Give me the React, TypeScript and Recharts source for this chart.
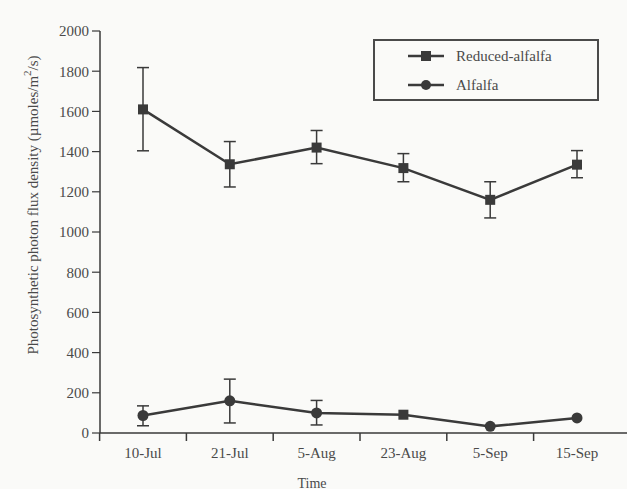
import { LineChart, Line, XAxis, YAxis, ErrorBar, Legend } from "recharts"

const dates = ["10-Jul", "21-Jul", "5-Aug", "23-Aug", "5-Sep", "15-Sep"]

// Reduced-alfalfa means and error bar ends
const reduced = [1610, 1337, 1420, 1318, 1160, 1335]
const reducedLow = [1404, 1224, 1340, 1250, 1070, 1270]
const reducedHigh = [1818, 1450, 1505, 1390, 1250, 1405]

// Alfalfa means and error bar ends (null = hidden under the marker)
const alfalfa = [87, 160, 100, 91, 33, 75]
const alfalfaLow = [36, 50, 40, null, null, null]
const alfalfaHigh = [135, 268, 162, null, null, null]

const yTicks = [0, 200, 400, 600, 800, 1000, 1200, 1400, 1600, 1800, 2000]

const data = dates.map((date, i) => ({
  date,
  reduced: reduced[i],
  reducedErr: [reduced[i] - reducedLow[i], reducedHigh[i] - reduced[i]],
  alfalfa: alfalfa[i],
  alfalfaErr:
    alfalfaLow[i] == null
      ? undefined
      : [alfalfa[i] - (alfalfaLow[i] as number), (alfalfaHigh[i] as number) - alfalfa[i]],
}))

const font = "'Liberation Serif', 'DejaVu Serif', serif"
const ink = "#3a3a3a"
const textColor = "#4a4a4a"
const half = 43.4 // half the spacing between categories

function SquareDot(props: any) {
  const { cx, cy, index } = props
  return <rect key={`sq-${index}`} x={cx - 5} y={cy - 5} width={10} height={10} fill={ink} />
}

function RoundDot(props: any) {
  const { cx, cy, index } = props
  // the 23-Aug point is printed as a square in the original
  if (index === 3) return <rect key={`rd-${index}`} x={cx - 5} y={cy - 5} width={10} height={10} fill={ink} />
  return <circle key={`rd-${index}`} cx={cx} cy={cy} r={5.5} fill={ink} />
}

function XTick(props: any) {
  const { x, y, payload, index } = props
  const axisY = y - 8
  return (
    <g>
      {index === 0 && <line x1={x - half} x2={x - half} y1={axisY} y2={axisY + 8} stroke={ink} strokeWidth={1.5} />}
      {index < dates.length - 1 && (
        <line x1={x + half} x2={x + half} y1={axisY} y2={axisY + 8} stroke={ink} strokeWidth={1.5} />
      )}
      <text x={x} y={axisY + 14} dy="0.71em" textAnchor="middle" fill={textColor} fontFamily={font} fontSize={15}>
        {payload.value}
      </text>
    </g>
  )
}

function YLabel() {
  return (
    <text
      x={33}
      y={205}
      transform="rotate(-90 33 205)"
      textAnchor="middle"
      dominantBaseline="central"
      fill={textColor}
      fontFamily={font}
      fontSize={15}
    >
      Photosynthetic photon flux density (µmoles/m
      <tspan dy={-6} fontSize={11}>2</tspan>
      <tspan dy={6}>/s)</tspan>
    </text>
  )
}

function TimeLabel() {
  return (
    <text x={312} y={483} textAnchor="middle" dominantBaseline="central" fill={textColor} fontFamily={font} fontSize={14}>
      Time
    </text>
  )
}

function LegendBox() {
  const row = (top: number, label: string, round: boolean) => (
    <div style={{ position: "absolute", left: 33, top: top - 8, height: 16, display: "flex", alignItems: "center" }}>
      <svg width={36} height={16}>
        <line x1={0} x2={36} y1={8} y2={8} stroke={ink} strokeWidth={2.5} />
        {round ? <circle cx={18} cy={8} r={5} fill={ink} /> : <rect x={13} y={3} width={10} height={10} fill={ink} />}
      </svg>
      <span style={{ marginLeft: 12, fontFamily: font, fontSize: 15, color: textColor }}>{label}</span>
    </div>
  )
  return (
    <div
      style={{
        position: "relative",
        width: 226,
        height: 62,
        border: "2px solid #4a4a4a",
        boxSizing: "border-box",
      }}
    >
      {row(15, "Reduced-alfalfa", false)}
      {row(44, "Alfalfa", true)}
    </div>
  )
}

export default function App() {
  return (
    <div style={{ position: "absolute", left: 0, top: 0, width: 627, height: 489, background: "#fafaf8" }}>
      <LineChart width={627} height={489} data={data} margin={{ top: 31, right: 0, bottom: 26, left: 0 }}>
        <XAxis
          dataKey="date"
          height={30}
          interval={0}
          padding={{ left: 43, right: 50 }}
          tickLine={false}
          tickSize={6}
          tickMargin={2}
          axisLine={{ stroke: ink, strokeWidth: 1.5 }}
          tick={<XTick />}
          label={<TimeLabel />}
        />
        <YAxis
          width={100}
          domain={[0, 2000]}
          ticks={yTicks}
          interval={0}
          tickSize={8}
          tickMargin={3}
          axisLine={{ stroke: ink, strokeWidth: 1.5 }}
          tickLine={{ stroke: ink, strokeWidth: 1.2 }}
          tick={{ fill: textColor, fontFamily: font, fontSize: 15 }}
          label={<YLabel />}
        />
        <Legend
          layout="vertical"
          verticalAlign="middle"
          align="center"
          content={<LegendBox />}
          wrapperStyle={{ left: 373, top: 39, width: 226 }}
        />
        <Line
          name="Reduced-alfalfa"
          dataKey="reduced"
          stroke={ink}
          strokeWidth={2.5}
          dot={SquareDot}
          activeDot={false}
          isAnimationActive={false}
        >
          <ErrorBar dataKey="reducedErr" direction="y" width={6} stroke={ink} strokeWidth={1.5} />
        </Line>
        <Line
          name="Alfalfa"
          dataKey="alfalfa"
          stroke={ink}
          strokeWidth={2.5}
          dot={RoundDot}
          activeDot={false}
          isAnimationActive={false}
        >
          <ErrorBar dataKey="alfalfaErr" direction="y" width={6} stroke={ink} strokeWidth={1.5} />
        </Line>
      </LineChart>
    </div>
  )
}
